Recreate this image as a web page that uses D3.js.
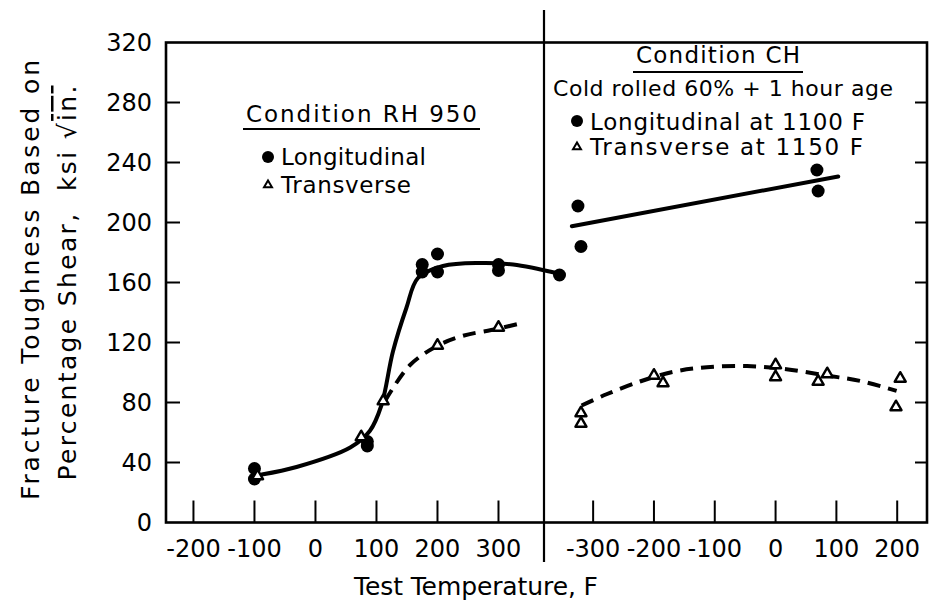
<!DOCTYPE html>
<html><head><meta charset="utf-8">
<script src="https://cdn.jsdelivr.net/npm/d3@7"></script>
<style>
html,body{margin:0;padding:0;background:#fff;}
svg{display:block;font-family:"DejaVu Sans",sans-serif;}
text{white-space:pre;}
</style></head>
<body>
<svg id="chart" width="933" height="606"></svg>
<script>
// ---- Data ----
// Condition RH 950 (left panel)
const rhLongT  = [-100, -100, 85, 85, 175, 175, 200, 200, 300, 300, 400];
const rhLongV  = [36, 29, 54, 51, 172, 167, 179, 167, 172, 168, 165];
const rhTransT = [-95, 75, 111, 200, 300];
const rhTransV = [31, 57, 81, 118, 130];
// hand-drawn fit curves (knots)
const rhLongFitT  = [-88, -31, 57, 89, 108, 127, 149, 168, 209, 270, 324, 398];
const rhLongFitV  = [32, 37, 50, 61, 78, 114, 143, 163, 171, 173, 172, 166];
const rhTransFitT = [114, 155, 201, 242, 297, 338];
const rhTransFitV = [81, 105, 118, 124.5, 129, 133];
// Condition CH (right panel)
const chLongT  = [-325, -320, 68, 70];
const chLongV  = [211, 184, 235, 221];
const chTransT = [-320, -320, -200, -185, 0, 0, 70, 85, 205, 198];
const chTransV = [73, 66, 98, 93, 105, 97, 94, 99, 96, 77];
const chLongFitT  = [-335, 103];
const chLongFitV  = [197.5, 230.7];
const chTransFitT = [-319, -278, -223, -168, -113, -47, 18, 84, 139, 199];
const chTransFitV = [78, 85.5, 94, 100.5, 103.5, 104.3, 102.2, 98, 94.4, 87.7];
// ticks
const yTicks = [0, 40, 80, 120, 160, 200, 240, 280, 320];
const xTicksLeft  = [-200, -100, 0, 100, 200, 300];
const xTicksRight = [-300, -200, -100, 0, 100, 200];

// ---- Layout ----
const pLeft = 166, pRight = 927, pTop = 42.5, pBottom = 522.5, divX = 544;
const svg = d3.select("#chart");
const y  = d3.scaleLinear().domain([0, 320]).range([pBottom, pTop]);
const xL = d3.scaleLinear().domain([-245, 374.6]).range([pLeft, divX]);
const xR = d3.scaleLinear().domain([-380.8, 249]).range([divX, pRight]);

// frame
svg.append("rect").attr("x", pLeft).attr("y", pTop).attr("width", pRight-pLeft).attr("height", pBottom-pTop)
  .attr("fill", "none").attr("stroke", "#000").attr("stroke-width", 2.6);
// divider
svg.append("line").attr("x1", divX).attr("x2", divX).attr("y1", 10).attr("y2", 562)
  .attr("stroke", "#000").attr("stroke-width", 2.2);

// y ticks (inward on both sides) and labels
const inner = yTicks.filter(d => d > 0 && d < 320);
svg.append("g").selectAll("line").data(inner).join("line")
  .attr("x1", pLeft).attr("x2", pLeft + 14).attr("y1", d => y(d)).attr("y2", d => y(d))
  .attr("stroke", "#000").attr("stroke-width", 2);
svg.append("g").selectAll("line").data(inner).join("line")
  .attr("x1", pRight).attr("x2", pRight - 12).attr("y1", d => y(d)).attr("y2", d => y(d))
  .attr("stroke", "#000").attr("stroke-width", 2);
svg.append("g").selectAll("text").data(yTicks).join("text")
  .attr("x", 152).attr("y", d => y(d)).attr("dy", "0.36em")
  .attr("text-anchor", "end").attr("font-size", 24).text(d => d);

// x ticks (upward) and labels
function xTicks(scale, vals) {
  const g = svg.append("g");
  g.selectAll("line").data(vals).join("line")
    .attr("x1", d => scale(d)).attr("x2", d => scale(d))
    .attr("y1", pBottom).attr("y2", pBottom - 22)
    .attr("stroke", "#000").attr("stroke-width", 2);
  g.selectAll("text").data(vals).join("text")
    .attr("x", d => scale(d)).attr("y", 557)
    .attr("text-anchor", "middle").attr("font-size", 24)
    .text(d => d < 0 ? "-" + Math.abs(d) : d);
}
xTicks(xL, xTicksLeft);
xTicks(xR, xTicksRight);

// axis titles
svg.append("text").attr("x", 476).attr("y", 595).attr("text-anchor", "middle")
  .attr("font-size", 25).attr("textLength", 244).attr("lengthAdjust", "spacing")
  .text("Test Temperature, F");
const yt = svg.append("g").attr("transform", "rotate(-90)");
yt.append("text").attr("x", -280).attr("y", 39).attr("text-anchor", "middle")
  .attr("font-size", 25).attr("textLength", 440).attr("lengthAdjust", "spacing")
  .text("Fracture Toughness Based on");
const t2 = yt.append("text").attr("x", -283).attr("y", 76).attr("text-anchor", "middle")
  .attr("font-size", 25).attr("textLength", 395).attr("lengthAdjust", "spacing");
t2.append("tspan").text("Percentage Shear,  ksi \u221A");
t2.append("tspan").style("text-decoration", "overline").text("in.");

// curves
const lineL = d3.line().x(d => xL(d[0])).y(d => y(d[1])).curve(d3.curveCatmullRom.alpha(0.5));
const lineR = d3.line().x(d => xR(d[0])).y(d => y(d[1])).curve(d3.curveCatmullRom.alpha(0.5));
const zip = (a, b) => a.map((v, i) => [v, b[i]]);
svg.append("path").attr("d", lineL(zip(rhLongFitT, rhLongFitV)))
  .attr("fill", "none").attr("stroke", "#000").attr("stroke-width", 4).attr("stroke-linecap", "round");
svg.append("path").attr("d", lineL(zip(rhTransFitT, rhTransFitV)))
  .attr("fill", "none").attr("stroke", "#000").attr("stroke-width", 4).attr("stroke-dasharray", "13 8");
svg.append("path").attr("d", lineR(zip(chLongFitT, chLongFitV)))
  .attr("fill", "none").attr("stroke", "#000").attr("stroke-width", 4).attr("stroke-linecap", "round");
svg.append("path").attr("d", lineR(zip(chTransFitT, chTransFitV)))
  .attr("fill", "none").attr("stroke", "#000").attr("stroke-width", 4).attr("stroke-dasharray", "13 8");

// markers
function tri(cx, cy, s) {
  const h = s * Math.sqrt(3) / 2;
  return `M${cx},${cy - h*2/3}L${cx + s/2},${cy + h/3}L${cx - s/2},${cy + h/3}Z`;
}
function circles(scale, T, V) {
  svg.append("g").selectAll("circle").data(zip(T, V)).join("circle")
    .attr("cx", d => scale(d[0])).attr("cy", d => y(d[1])).attr("r", 6.5).attr("fill", "#000");
}
function triangles(scale, T, V) {
  svg.append("g").selectAll("path").data(zip(T, V)).join("path")
    .attr("d", d => tri(scale(d[0]), y(d[1]), 11))
    .attr("fill", "#fff").attr("stroke", "#000").attr("stroke-width", 2.4).attr("stroke-linejoin", "round");
}
circles(xL, rhLongT, rhLongV);
triangles(xL, rhTransT, rhTransV);
circles(xR, chLongT, chLongV);
triangles(xR, chTransT, chTransV);

// legends
function legendTitle(x1, x2, ybase, yline, txt) {
  svg.append("text").attr("x", x1).attr("y", ybase).attr("font-size", 23)
    .attr("textLength", x2 - x1).attr("lengthAdjust", "spacing").text(txt);
  svg.append("line").attr("x1", x1 - 3).attr("x2", x2 + 3).attr("y1", yline).attr("y2", yline)
    .attr("stroke", "#000").attr("stroke-width", 2);
}
legendTitle(246, 477, 122, 129, "Condition RH 950");
svg.append("circle").attr("cx", 268).attr("cy", 157).attr("r", 6).attr("fill", "#000");
svg.append("text").attr("x", 281).attr("y", 165).attr("font-size", 23)
  .attr("textLength", 145).attr("lengthAdjust", "spacing").text("Longitudinal");
svg.append("path").attr("d", tri(268, 185, 8)).attr("fill", "#fff").attr("stroke", "#000").attr("stroke-width", 2);
svg.append("text").attr("x", 281).attr("y", 193).attr("font-size", 23)
  .attr("textLength", 130).attr("lengthAdjust", "spacing").text("Transverse");

legendTitle(636, 800, 63, 72, "Condition CH");
svg.append("text").attr("x", 553).attr("y", 96).attr("font-size", 22)
  .attr("textLength", 340).attr("lengthAdjust", "spacing").text("Cold rolled 60% + 1 hour age");
svg.append("circle").attr("cx", 577).attr("cy", 121).attr("r", 6).attr("fill", "#000");
svg.append("text").attr("x", 590).attr("y", 130).attr("font-size", 23)
  .attr("textLength", 275).attr("lengthAdjust", "spacing").text("Longitudinal at 1100 F");
svg.append("path").attr("d", tri(577, 147, 8)).attr("fill", "#fff").attr("stroke", "#000").attr("stroke-width", 2);
svg.append("text").attr("x", 590).attr("y", 155).attr("font-size", 23)
  .attr("textLength", 273).attr("lengthAdjust", "spacing").text("Transverse at 1150 F");
</script>
</body></html>
